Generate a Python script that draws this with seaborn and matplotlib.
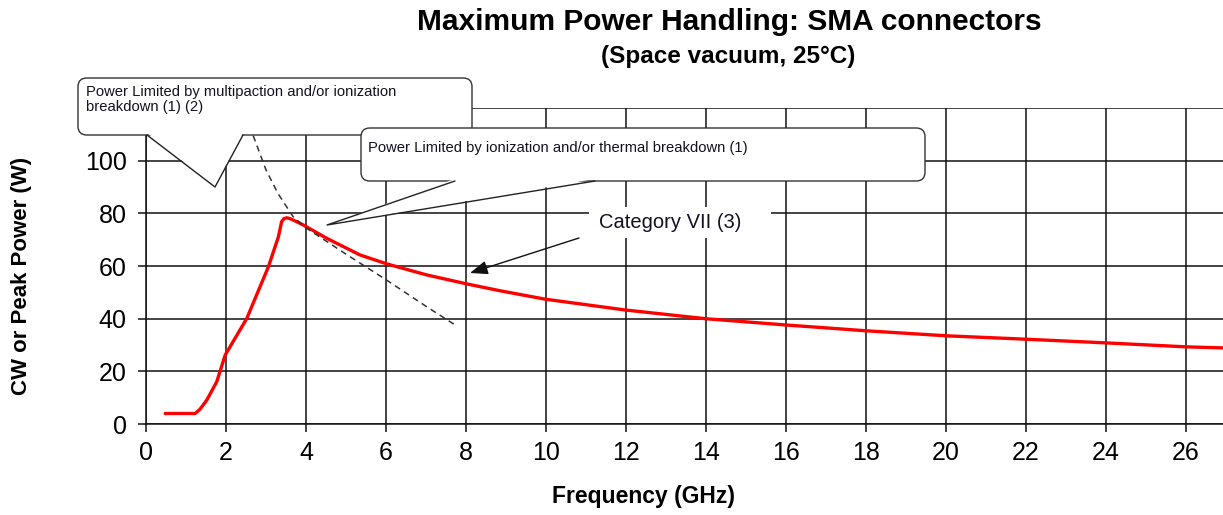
import numpy as np
import pandas as pd
import seaborn as sns
import matplotlib.pyplot as plt
from matplotlib.patches import FancyBboxPatch, Polygon, Rectangle

# values
red_freq = [0.48, 1.23, 1.35, 1.52, 1.77, 1.98, 2.52, 3.06, 3.31, 3.39, 3.45, 3.52, 3.6,
            3.7, 3.93, 4.52, 5.35, 6.02, 7.02, 8.02, 8.85, 9.98, 11.98, 13.98, 16.0,
            18.0, 20.0, 22.0, 24.0, 26.0, 26.93]
red_power = [4, 4, 5.6, 9.1, 16.1, 26.2, 40.1, 59.7, 71.1, 76.8, 78.0, 78.3, 78.0,
             77.3, 75.6, 70.5, 64.2, 60.8, 56.6, 53.2, 50.6, 47.4, 43.3, 40.0, 37.6,
             35.4, 33.5, 32.2, 30.8, 29.3, 28.9]

dash_freq = [2.68, 3.0, 3.3, 3.68, 4.0, 4.35, 5.0, 6.0, 7.0, 7.73]
dash_power = [109.5, 96.5, 87.5, 78.7, 74.5, 71, 64.5, 54.8, 44.7, 37.6]

x_ticks = list(range(0, 27, 2))
y_ticks = [0, 20, 40, 60, 80, 100, 120]
y_tick_labels = ["0", "20", "40", "60", "80", "100", ""]

title = "Maximum Power Handling: SMA connectors"
subtitle = "(Space vacuum, 25°C)"
callout_1 = "Power Limited by multipaction and/or ionization\nbreakdown (1) (2)"
callout_2 = "Power Limited by ionization and/or thermal breakdown (1)"
category_label = "Category VII (3)"

sns.set_theme(style="white")
plt.rcParams['font.family'] = ['Liberation Sans', 'DejaVu Sans']
plt.rcParams['text.color'] = 'black'
plt.rcParams['axes.labelcolor'] = 'black'

W, H = 1223, 515
fig = plt.figure(figsize=(W / 100, H / 100), dpi=100)
ax = fig.add_axes([146 / W, 1 - 424 / H, 1 - 146 / W, 316 / H])

XMAX = (W - 146) / 40
px_x = 40.0
px_y = 316 / 120.0
asp = px_x / px_y

red_df = pd.DataFrame({"freq": red_freq, "power": red_power})
dash_df = pd.DataFrame({"freq": dash_freq, "power": dash_power})

sns.lineplot(data=red_df, x="freq", y="power", color="#ff0000", lw=2.4, ax=ax, zorder=3)
sns.lineplot(data=dash_df, x="freq", y="power", color="#333333", lw=1.1,
             linestyle=(0, (4, 3)), ax=ax, zorder=3)

ax.set_xlim(0, XMAX)
ax.set_ylim(0, 120)
ax.set_xticks(x_ticks)
ax.set_yticks(y_ticks)
ax.set_yticklabels(y_tick_labels)
ax.grid(True, color="#111111", lw=1.1)
ax.set_axisbelow(True)
for s in ["top", "right"]:
    ax.spines[s].set_visible(False)
for s in ["left", "bottom"]:
    ax.spines[s].set_color("#111111")
    ax.spines[s].set_linewidth(1.1)
ax.tick_params(bottom=True, left=True, direction="out", length=6, width=1.1,
               color="#111111", labelsize=18, labelcolor="black")
ax.tick_params(axis="x", pad=6)
ax.tick_params(axis="y", pad=8)

ax.set_xlabel("Frequency (GHz)", fontsize=16.5, fontweight="bold")
ax.set_ylabel("CW or Peak Power (W)", fontsize=16, fontweight="bold")
ax.xaxis.set_label_coords((643 - 146) / 40 / XMAX, (424 - 497) / 316)
ax.xaxis.label.set_va("center")
ax.yaxis.set_label_coords((22 - 146) / (W - 146), (424 - 276) / 316)
ax.yaxis.label.set_va("center")

fig.text(729 / W, 1 - 22 / H, title, ha="center", va="center", fontsize=21.5, fontweight="bold")
fig.text(728 / W, 1 - 56 / H, subtitle, ha="center", va="center", fontsize=17.5, fontweight="bold")


def to_data(px, py):
    return (px - 146) / px_x, (424 - py) / px_y


def callout(box_px, wedge_px, text, text_px):
    (l, t), (r, b) = to_data(box_px[0], box_px[1]), to_data(box_px[2], box_px[3])
    box = FancyBboxPatch((l, b), r - l, t - b,
                         boxstyle="round,pad=0,rounding_size=0.22", mutation_aspect=asp,
                         fc="white", ec="#333333", lw=1.0, clip_on=False, zorder=5)
    ax.add_patch(box)
    b0, tip, b1 = [to_data(*p) for p in wedge_px]
    eps = 0.8
    ax.add_patch(Polygon([(b0[0], b0[1] + eps), tip, (b1[0], b1[1] + eps)],
                         closed=True, fc="white", ec="none", clip_on=False, zorder=6))
    ax.plot([b0[0], tip[0], b1[0]], [b0[1], tip[1], b1[1]], color="#222222",
            lw=1.0, clip_on=False, zorder=7)
    tx, ty = to_data(*text_px)
    ax.text(tx, ty, text, ha="left", va="top", fontsize=10.6, color="#111122",
            linespacing=1.05, clip_on=False, zorder=8)


callout((78, 78, 472, 135), [(147, 135), (215, 187), (243, 135)], callout_1, (86, 85))
callout((361, 128, 925, 181), [(455, 181), (327, 225), (595, 181)], callout_2, (368, 141))

# white patch behind the category label
(cl, ct), (cr, cb) = to_data(589, 207), to_data(771, 238)
ax.add_patch(Rectangle((cl, cb), cr - cl, ct - cb, fc="white", ec="none", zorder=4))
cx, cy = to_data(670, 223)
ax.text(cx, cy, category_label, ha="center", va="center", fontsize=14.5, color="#111122", zorder=5)
ax.annotate("", xy=to_data(470, 273), xytext=to_data(579, 238),
            arrowprops=dict(arrowstyle="-|>,head_length=0.9,head_width=0.35",
                            color="#111111", lw=1.0, shrinkA=0, shrinkB=0), zorder=5)

fig.savefig("out.png", dpi=100)
